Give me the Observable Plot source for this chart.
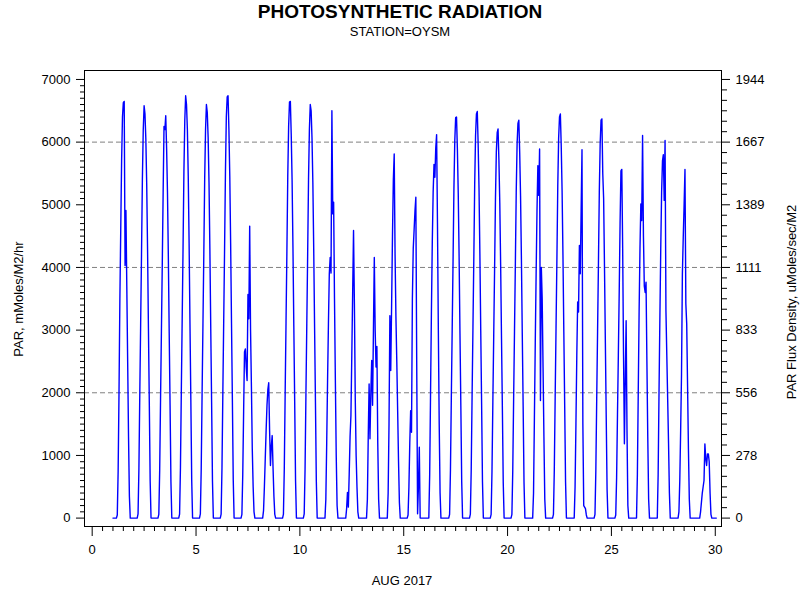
<!DOCTYPE html>
<html><head><meta charset="utf-8">
<script src="https://cdn.jsdelivr.net/npm/d3@7"></script>
<script src="https://cdn.jsdelivr.net/npm/@observablehq/plot@0.6"></script>
<style>body{margin:0;background:#fff} svg{display:block}</style>
</head><body><div id="chart"></div>
<script>
// Hours of day at which each day's reading is given (PAR, mMoles/M2/hr)
const hours = [4,5,6,7,8,9,10,11,12,13,14,15,16,17,18,19,20];
// Day of month (AUG 2017)
const days = [1,2,3,4,5,6,7,8,9,10,11,12,13,14,15,16,17,18,19,20,21,22,23,24,25,26,27,28,29];
// One row per day, one value per hour above
const parByDay = [
  [0,50,750,2000,3500,4600,5700,6400,6630,6650,4030,4910,3700,2500,1300,350,0],
  [0,66,790,1970,3090,4210,5400,6190,6580,6450,6050,5330,4280,3030,1840,590,0],
  [0,60,760,1900,2980,4060,5200,6250,6200,6420,5900,5200,4180,2950,1800,580,0],
  [0,65,810,2020,3170,4310,5530,6340,6740,6600,6200,5460,4380,3100,1890,610,0],
  [0,66,790,1980,3100,4220,5410,6200,6600,6470,6070,5350,4290,3040,1850,590,0],
  [0,65,810,2020,3170,4310,5530,6400,6720,6740,6200,5460,4380,3100,1890,610,0],
  [0,60,700,1700,2650,2700,2400,2195,3570,3180,4660,3000,2100,1100,500,100,0],
  [0,0,120,500,950,1400,1800,2050,2160,1400,840,1150,1317,800,350,60,0],
  [0,65,800,2000,3130,4260,5450,6250,6640,6650,6120,5390,4320,3060,1860,600,0],
  [0,66,790,1980,3100,4220,5410,6200,6600,6500,6070,5350,4290,3040,1850,590,0],
  [0,0,300,1200,2200,3100,3900,4160,3910,6500,4855,5040,3500,2200,1000,200,0],
  [0,0,150,410,175,700,1300,1640,2600,3600,4590,3420,1900,1000,490,100,0],
  [0,0,300,1300,2140,1265,2000,2515,1800,3000,4160,3000,2410,2740,1200,300,0],
  [0,0,400,1500,3230,2355,3400,4500,5400,5810,4200,3200,2490,1700,900,250,0],
  [0,50,500,1200,1715,1370,3500,4300,4600,4900,5120,2500,70,500,1130,0,0],
  [0,0,700,2000,3300,4400,5200,5645,5440,5900,6120,4700,3000,1500,400,0,0],
  [0,60,770,1920,3010,4100,5250,6020,6390,6400,5890,5180,4160,2940,1790,580,0],
  [0,65,780,1950,3050,4150,5320,6100,6450,6490,5970,5260,4220,2990,1820,580,0],
  [0,60,750,1860,2920,3970,5090,5840,6150,6210,5710,5030,4040,2860,1740,560,0],
  [0,60,760,1900,2980,4060,5200,5970,6300,6350,5840,5140,4130,2920,1780,570,0],
  [0,0,400,1600,2800,3900,4900,5625,5150,5890,1875,4000,3500,2400,1300,300,0],
  [0,60,770,1930,3030,4130,5290,6060,6400,6450,5940,5220,4190,2970,1800,580,0],
  [0,0,500,1500,2600,3450,3290,4350,3900,4900,5880,1500,200,175,150,50,0],
  [0,60,760,1900,2980,4060,5200,5970,6350,6370,5500,5100,4000,2800,1600,450,0],
  [0,50,650,1650,2600,3600,4700,5540,5565,4300,2600,1185,2200,3150,1400,200,0],
  [0,0,700,2000,3300,4300,5015,4750,6105,4500,3700,3600,3765,2500,1300,300,0],
  [0,0,700,2000,3200,4300,5200,5700,5800,5070,6025,3310,2600,1900,1200,400,0],
  [0,0,100,600,1400,2300,3900,4480,5000,5565,3420,3100,2100,1100,300,0,0],
  [0,0,0,100,250,400,500,600,1185,950,840,1025,1025,900,400,60,0]
];
// Night-time zero readings at the start and end of the record
const seriesStart = 1.0;
const seriesEnd = 30.05;

const xMajorTicks = [0,5,10,15,20,25,30];
const yMajorTicks = [0,1000,2000,3000,4000,5000,6000,7000];
const fluxTickLabels = ["0","278","556","833","1111","1389","1667","1944"];
const gridValues = [2000,4000,6000];

const points = [{t: seriesStart, v: 0}];
days.forEach((d, i) => hours.forEach((h, j) => points.push({t: d + h / 24, v: parByDay[i][j]})));
points.push({t: seriesEnd, v: 0});

const xMinor = d3.range(0, 61).map(i => i / 2).filter(v => v % 5 !== 0);
const yMinor = d3.range(0, 71).map(i => i * 100).filter(v => v % 1000 !== 0);
const rMinor = d3.range(0, 43).filter(i => i % 6 !== 0).map(i => i * 1000 / 6);
const noLabel = () => "";

const plot = Plot.plot({
  width: 800, height: 600,
  marginLeft: 84, marginRight: 79, marginTop: 70, marginBottom: 74,
  x: {domain: [-0.37, 30.3]},
  y: {domain: [-134, 7143]},
  style: {fontFamily: "'Liberation Sans', Arial, sans-serif", fontSize: "13px", color: "black", background: "white"},
  marks: [
    Plot.ruleY(gridValues, {stroke: "#808080", strokeWidth: 1, strokeDasharray: "5,3"}),
    Plot.line(points, {x: "t", y: "v", stroke: "#0000ff", strokeWidth: 1.4}),
    Plot.frame({stroke: "black", strokeWidth: 1}),
    Plot.axisX(xMajorTicks, {anchor: "bottom", tickSize: 10, tickPadding: 8, label: null, tickFormat: d => String(d)}),
    Plot.axisX(xMinor, {anchor: "bottom", tickSize: 5, tickFormat: noLabel, label: null}),
    Plot.axisY(yMajorTicks, {anchor: "left", tickSize: 8, tickPadding: 6, label: null, tickFormat: d => String(d)}),
    Plot.axisY(yMinor, {anchor: "left", tickSize: 4, tickFormat: noLabel, label: null}),
    Plot.axisY(yMajorTicks, {anchor: "right", tickSize: 8, tickPadding: 6, label: null, tickFormat: d => fluxTickLabels[yMajorTicks.indexOf(d)]}),
    Plot.axisY(rMinor, {anchor: "right", tickSize: 5, tickFormat: noLabel, label: null})
  ]
});

const svg = d3.select(plot);
const font = "'Liberation Sans', Arial, sans-serif";
svg.append("text").attr("x", 400).attr("y", 18).attr("text-anchor", "middle")
  .attr("font-family", font).attr("font-weight", "bold").attr("font-size", 19).attr("fill", "black")
  .text("PHOTOSYNTHETIC RADIATION");
svg.append("text").attr("x", 400).attr("y", 36).attr("text-anchor", "middle")
  .attr("font-family", font).attr("font-size", 13).attr("fill", "black")
  .text("STATION=OYSM");
svg.append("text").attr("x", 402).attr("y", 585).attr("text-anchor", "middle")
  .attr("font-family", font).attr("font-size", 13).attr("fill", "black")
  .text("AUG 2017");
svg.append("text").attr("transform", "translate(23,299) rotate(-90)").attr("text-anchor", "middle")
  .attr("font-family", font).attr("font-size", 13).attr("fill", "black")
  .text("PAR, mMoles/M2/hr");
svg.append("text").attr("transform", "translate(796,302) rotate(-90)").attr("text-anchor", "middle")
  .attr("font-family", font).attr("font-size", 13).attr("fill", "black")
  .text("PAR Flux Density, uMoles/sec/M2");

document.getElementById("chart").appendChild(plot);
</script>
</body></html>
